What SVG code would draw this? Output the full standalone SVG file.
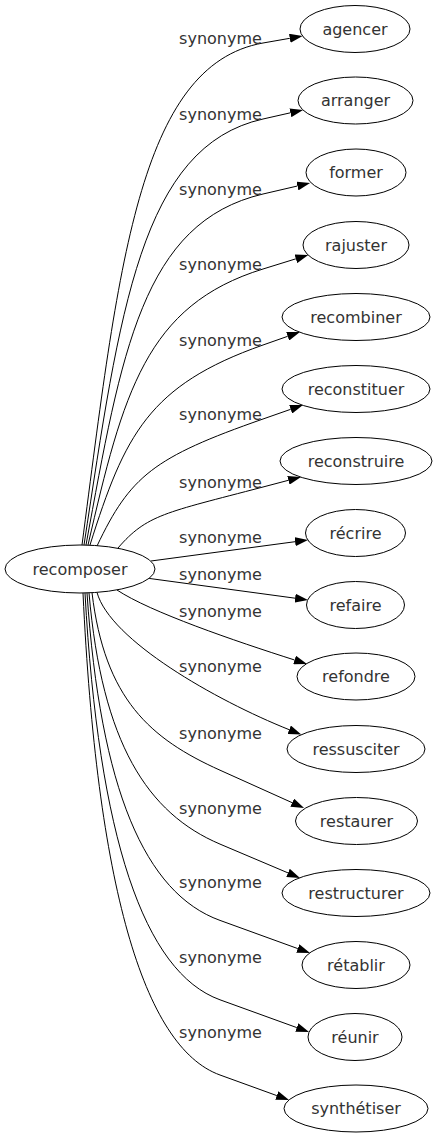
<svg xmlns="http://www.w3.org/2000/svg" width="437" height="1139" viewBox="0 0 437 1139">
<style>
.n ellipse{fill:#fff;stroke:#000;stroke-width:1}
.n text{font-family:"DejaVu Sans",sans-serif;font-size:16px;fill:#333;text-anchor:middle}
.e path{fill:none;stroke:#000;stroke-width:1;marker-end:url(#ah)}
.lb{font-family:"DejaVu Sans",sans-serif;font-size:16px;fill:#333;text-anchor:middle}
</style>
<defs>
<marker id="ah" markerWidth="13" markerHeight="9" refX="0" refY="4.5" orient="auto" markerUnits="userSpaceOnUse">
<path d="M0,0 L13,4.5 L0,9 z" fill="#000"/>
</marker>
</defs>
<rect width="437" height="1139" fill="#fff"/>
<g id="edges" class="e">
<path d="M82,545 C118.2,268.9 138.2,65 263,43 L289.8,38.3"/>
<path d="M84,545 C119.8,310.7 140.7,146.4 263,119 L290.4,112.8"/>
<path d="M86,545 C121.4,352 142.4,222.2 263,194 L297.4,186"/>
<path d="M88,545 C123,393.2 145.9,305.1 263,269 L295.9,258.8"/>
<path d="M90,545 C124.6,435 148.7,385.2 263,345 L287.7,336.3"/>
<path d="M97,546 C130.2,476.1 153.4,457.3 263,419 L290.7,409.3"/>
<path d="M118,548 C147,514.5 164.8,512.8 263,487 L288.4,480.3"/>
<path d="M151,561 L295.1,541.7"/>
<path d="M149,578.4 L295.1,598.2"/>
<path d="M117,590 C150,612 235,641 294.6,660"/>
<path d="M97,592.4 C110,640 215,700 289.2,729.7"/>
<path d="M92,592.7 C104.8,699.2 150.1,738.7 220,770.2 L292.2,802.7"/>
<path d="M89,593 C102.1,743.7 147.7,813.4 220,844.1 L288,872.9"/>
<path d="M87,593 C100.3,789.4 145,893.3 220,920.4 L297.8,948.6"/>
<path d="M85,593 C98.5,837.1 143.9,972.3 220,999.8 L296.8,1027.6"/>
<path d="M83,593 C96.7,882.2 142.7,1047.1 220,1075 L276.8,1095.6"/>
</g>
<g id="labels">
<text class="lb" x="220.5" y="44">synonyme</text>
<text class="lb" x="220.5" y="120">synonyme</text>
<text class="lb" x="220.5" y="195">synonyme</text>
<text class="lb" x="220.5" y="270">synonyme</text>
<text class="lb" x="220.5" y="346">synonyme</text>
<text class="lb" x="220.5" y="420">synonyme</text>
<text class="lb" x="220.5" y="488">synonyme</text>
<text class="lb" x="220.5" y="543">synonyme</text>
<text class="lb" x="220.5" y="580">synonyme</text>
<text class="lb" x="220.5" y="617">synonyme</text>
<text class="lb" x="220.5" y="672">synonyme</text>
<text class="lb" x="220.5" y="739">synonyme</text>
<text class="lb" x="220.5" y="814">synonyme</text>
<text class="lb" x="220.5" y="888">synonyme</text>
<text class="lb" x="220.5" y="963">synonyme</text>
<text class="lb" x="220.5" y="1038">synonyme</text>
</g>
<g id="recomposer" class="n"><ellipse cx="80" cy="569" rx="75" ry="24"/><text x="80" y="575">recomposer</text></g>
<g id="agencer" class="n"><ellipse cx="355" cy="29" rx="55" ry="23.5"/><text x="355" y="34.5">agencer</text></g>
<g id="arranger" class="n"><ellipse cx="355.5" cy="100.5" rx="57.5" ry="23.5"/><text x="355.5" y="106">arranger</text></g>
<g id="former" class="n"><ellipse cx="356" cy="172.5" rx="50" ry="23.5"/><text x="356" y="178">former</text></g>
<g id="rajuster" class="n"><ellipse cx="356" cy="245" rx="53" ry="23.5"/><text x="356" y="250.5">rajuster</text></g>
<g id="recombiner" class="n"><ellipse cx="356" cy="317" rx="74" ry="23.5"/><text x="356" y="322.5">recombiner</text></g>
<g id="reconstituer" class="n"><ellipse cx="356" cy="389" rx="74" ry="23.5"/><text x="356" y="394.5">reconstituer</text></g>
<g id="reconstruire" class="n"><ellipse cx="356" cy="461" rx="76" ry="23.5"/><text x="356" y="466.5">reconstruire</text></g>
<g id="recrire" class="n"><ellipse cx="355.5" cy="533" rx="50" ry="23.5"/><text x="355.5" y="538.5">récrire</text></g>
<g id="refaire" class="n"><ellipse cx="355.5" cy="605" rx="49" ry="23.5"/><text x="355.5" y="610.5">refaire</text></g>
<g id="refondre" class="n"><ellipse cx="356" cy="676.5" rx="59" ry="23.5"/><text x="356" y="682">refondre</text></g>
<g id="ressusciter" class="n"><ellipse cx="356" cy="749" rx="69" ry="23.5"/><text x="356" y="754.5">ressusciter</text></g>
<g id="restaurer" class="n"><ellipse cx="356.5" cy="821" rx="61" ry="23.5"/><text x="356.5" y="826.5">restaurer</text></g>
<g id="restructurer" class="n"><ellipse cx="356" cy="893" rx="74" ry="23.5"/><text x="356" y="898.5">restructurer</text></g>
<g id="retablir" class="n"><ellipse cx="356" cy="965" rx="54" ry="23.5"/><text x="356" y="970.5">rétablir</text></g>
<g id="reunir" class="n"><ellipse cx="355" cy="1037" rx="47" ry="23.5"/><text x="355" y="1042.5">réunir</text></g>
<g id="synthetiser" class="n"><ellipse cx="356" cy="1108.5" rx="72" ry="23.5"/><text x="356" y="1114">synthétiser</text></g>
</svg>
